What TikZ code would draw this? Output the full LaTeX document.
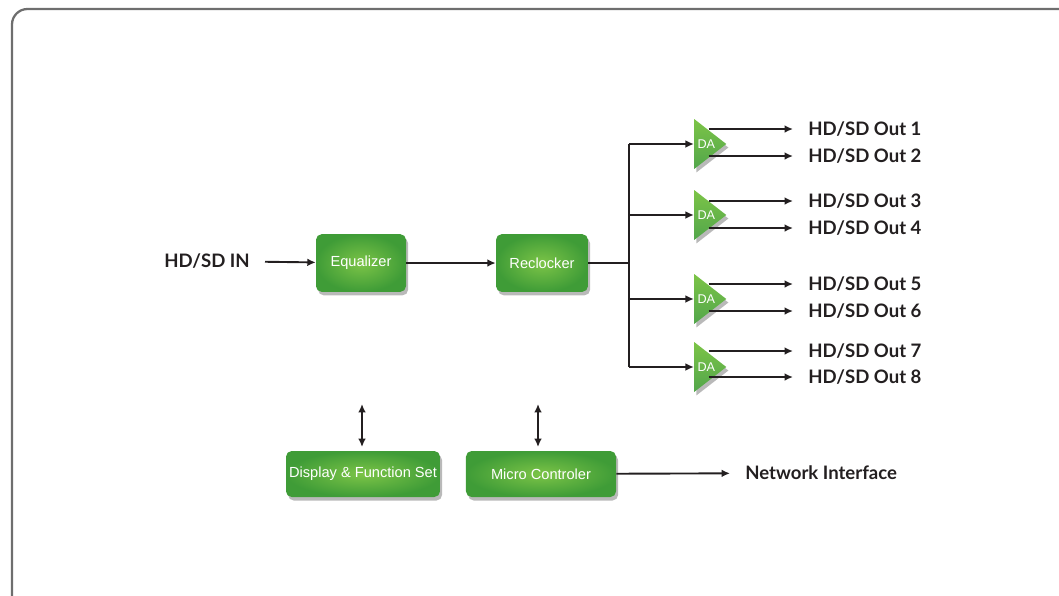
\documentclass[tikz,border=0pt]{standalone}
\usepackage{fontspec}
\newfontfamily\lblfont{Lato}
\newfontfamily\boxfont{Liberation Sans}
\usetikzlibrary{arrows.meta,shapes.geometric,shadows}
\definecolor{boxlight}{HTML}{7CC447}
\definecolor{boxdark}{HTML}{3F9C37}
\definecolor{framegray}{HTML}{6E6E6E}
\definecolor{ink}{HTML}{231F20}
\tikzset{
    block/.style={rectangle, rounded corners=4pt, inner sep=0pt,
        shading=radial, inner color=boxlight, outer color=boxdark,
        drop shadow={shadow xshift=1.5pt, shadow yshift=-2.5pt, opacity=.55},
        text=white, font=\boxfont\fontsize{10.4}{12}\selectfont}
}
\tikzset{
    amp/.style={isosceles triangle, isosceles triangle stretches,
        minimum width=35.5pt, minimum height=22.8pt, inner sep=0pt,
        anchor=apex, top color=boxlight, bottom color=boxdark!90,
        drop shadow={shadow xshift=1.5pt, shadow yshift=-2.5pt, opacity=.55},
        text=white, font=\boxfont\fontsize{9}{10}\selectfont}
}
\tikzset{
    lbl/.style={inner xsep=10.7pt, inner ysep=0pt, text=ink,
        font=\lblfont\bfseries\fontsize{13.2}{15}\selectfont},
    arr/.style={draw=ink, line width=1.35pt, -{Latex[length=6pt, width=5.5pt]}},
    darr/.style={draw=ink, line width=1.35pt, {Latex[length=6pt, width=5.5pt]}-{Latex[length=6pt, width=5.5pt]}},
    wire/.style={draw=ink, line width=1.35pt},
    tap/.style={shorten <=-13pt}
}

\begin{document}
\begin{tikzpicture}[x=0.025cm, y=-0.025cm]
	\useasboundingbox (0,0) rectangle (1059,595);
	\draw [framegray, line width=1.6pt, rounded corners=11pt]
		(12,9) rectangle (1080,612);

	\node (in) [lbl, anchor=east] at (265,261) {HD/SD IN};
	\node (eq) [block, minimum width=64pt, minimum height=41pt] at (361,263) {Equalizer};
	\node (rec) [block, minimum width=65.4pt, minimum height=41pt] at (542,263) {Reclocker};

	\node (da1) [amp] at (727,144) {DA\hspace{4pt}};
	\node (da2) [amp] at (727,215) {DA\hspace{4pt}};
	\node (da3) [amp] at (727,299) {DA\hspace{4pt}};
	\node (da4) [amp] at (727,367) {DA\hspace{4pt}};

	\node (out1) [lbl, anchor=west] at (793,129) {HD/SD Out 1};
	\node (out2) [lbl, anchor=west] at (793,156) {HD/SD Out 2};
	\node (out3) [lbl, anchor=west] at (793,201) {HD/SD Out 3};
	\node (out4) [lbl, anchor=west] at (793,228) {HD/SD Out 4};
	\node (out5) [lbl, anchor=west] at (793,284) {HD/SD Out 5};
	\node (out6) [lbl, anchor=west] at (793,311) {HD/SD Out 6};
	\node (out7) [lbl, anchor=west] at (793,351) {HD/SD Out 7};
	\node (out8) [lbl, anchor=west] at (793,377) {HD/SD Out 8};

	\node (disp) [block, minimum width=109.5pt, minimum height=32.7pt] at (363,474) {Display \& Function Set};
	\node (mcu) [block, minimum width=106.7pt, minimum height=32.7pt] at (541,474) {Micro Controler};
	\node (net) [lbl, anchor=west] at (730,473) {Network Interface};

	\coordinate (bus) at (629,263);
	\coordinate (b1) at (629,144); \coordinate (b2) at (629,215);
	\coordinate (b3) at (629,299); \coordinate (b4) at (629,367);
	\coordinate (d1) at (362,404); \coordinate (d2) at (362,447);
	\coordinate (m1) at (538,404); \coordinate (m2) at (538,447);

	\draw [arr] (in) -- (eq); \draw [arr] (eq) -- (rec);
	\draw [wire] (rec.east) -- (bus); \draw [wire] (b1) -- (b4);
	\draw [arr] (b1) -- (da1.west); \draw [arr] (b2) -- (da2.west);
	\draw [arr] (b3) -- (da3.west); \draw [arr] (b4) -- (da4.west);

	\draw [arr, tap] (da1.apex |- out1) -- (out1); \draw [arr, tap] (da1.apex |- out2) -- (out2);
	\draw [arr, tap] (da2.apex |- out3) -- (out3); \draw [arr, tap] (da2.apex |- out4) -- (out4);
	\draw [arr, tap] (da3.apex |- out5) -- (out5); \draw [arr, tap] (da3.apex |- out6) -- (out6);
	\draw [arr, tap] (da4.apex |- out7) -- (out7); \draw [arr, tap] (da4.apex |- out8) -- (out8);

	\draw [darr] (d1) -- (d2);
	\draw [darr] (m1) -- (m2);
	\draw [arr] (mcu) -- (net);
\end{tikzpicture}
\end{document}
